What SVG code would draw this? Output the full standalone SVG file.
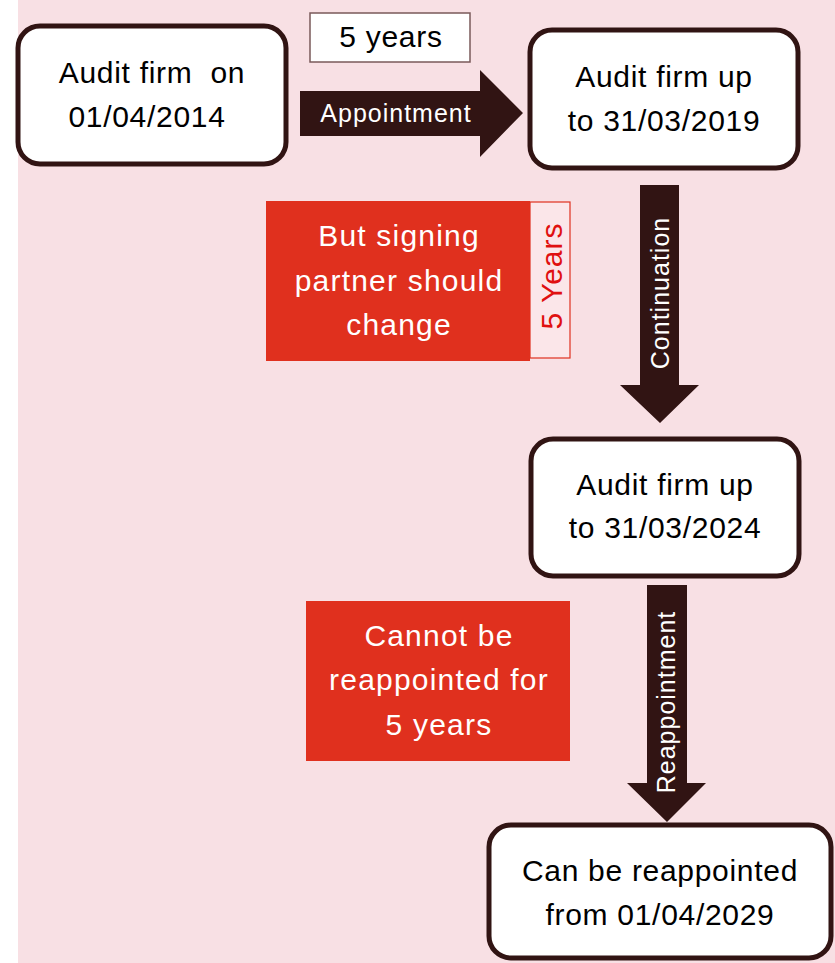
<svg xmlns="http://www.w3.org/2000/svg" width="835" height="963" viewBox="0 0 835 963">
<style>
.node{fill:#ffffff;stroke:#311413;stroke-width:5}
.t{font-family:"Liberation Sans",Arial,sans-serif;font-size:30px;letter-spacing:0.7px;fill:#000;text-anchor:middle}
.w{font-family:"Liberation Sans",Arial,sans-serif;font-size:30px;letter-spacing:1.2px;fill:#fff;text-anchor:middle}
.al{font-family:"Liberation Sans",Arial,sans-serif;font-size:25px;letter-spacing:1px;fill:#fff;text-anchor:middle}
.arrow{fill:#311413}
.red{fill:#e0301e}
</style>
<rect x="18" y="0" width="817" height="963" fill="#f8e0e4"/>
<g id="connectors">
<g id="appointment">
<polygon class="arrow" points="300,91 480,91 480,70 523,113 480,157 480,136 300,136"/>
<text class="al" x="396" y="122">Appointment</text>
</g>
<g id="continuation">
<polygon class="arrow" points="640,185 679,185 679,385 699,385 660,423 620,385 640,385"/>
<text class="al" transform="translate(669,293) rotate(-90)" x="0" y="0">Continuation</text>
</g>
<g id="reappointment">
<polygon class="arrow" points="647,585 687,585 687,783 706,783 667,822 627,783 647,783"/>
<text class="al" transform="translate(675,702) rotate(-90)" x="0" y="0">Reappointment</text>
</g>
</g>
<g id="label-5years">
<rect x="310" y="13" width="160" height="49" fill="#fff" stroke="#7a5a5a" stroke-width="1.5"/>
<text class="t" x="391" y="47">5 years</text>
</g>
<g id="node1">
<rect class="node" x="18" y="26" width="268" height="138" rx="22"/>
<text class="t" x="152" y="83" xml:space="preserve">Audit firm  on</text>
<text class="t" x="147" y="127">01/04/2014</text>
</g>
<g id="node2">
<rect class="node" x="530" y="30" width="268" height="138" rx="22"/>
<text class="t" x="664" y="87">Audit firm up</text>
<text class="t" x="664" y="131">to 31/03/2019</text>
</g>
<g id="node3">
<rect class="node" x="531" y="439" width="268" height="137" rx="22"/>
<text class="t" x="665" y="495">Audit firm up</text>
<text class="t" x="665" y="538">to 31/03/2024</text>
</g>
<g id="node4">
<rect class="node" x="489" y="825" width="342" height="133" rx="22"/>
<text class="t" x="660" y="881">Can be reappointed</text>
<text class="t" x="660" y="925">from 01/04/2029</text>
</g>
<g id="note-partner">
<rect class="red" x="266" y="201" width="264" height="160"/>
<text class="w" x="399" y="246">But signing</text>
<text class="w" x="399" y="291">partner should</text>
<text class="w" x="399" y="335">change</text>
</g>
<g id="label-5Years">
<rect x="530" y="202" width="40" height="156" fill="#fbe6e9" stroke="#e0301e" stroke-width="1.2"/>
<text transform="translate(562,276) rotate(-90)" x="0" y="0" font-family="Liberation Sans, Arial, sans-serif" font-size="30" letter-spacing="1" fill="#e01010" text-anchor="middle">5 Years</text>
</g>
<g id="note-cannot">
<rect class="red" x="306" y="601" width="264" height="160"/>
<text class="w" x="439" y="646">Cannot be</text>
<text class="w" x="439" y="690">reappointed for</text>
<text class="w" x="439" y="735">5 years</text>
</g>
</svg>
